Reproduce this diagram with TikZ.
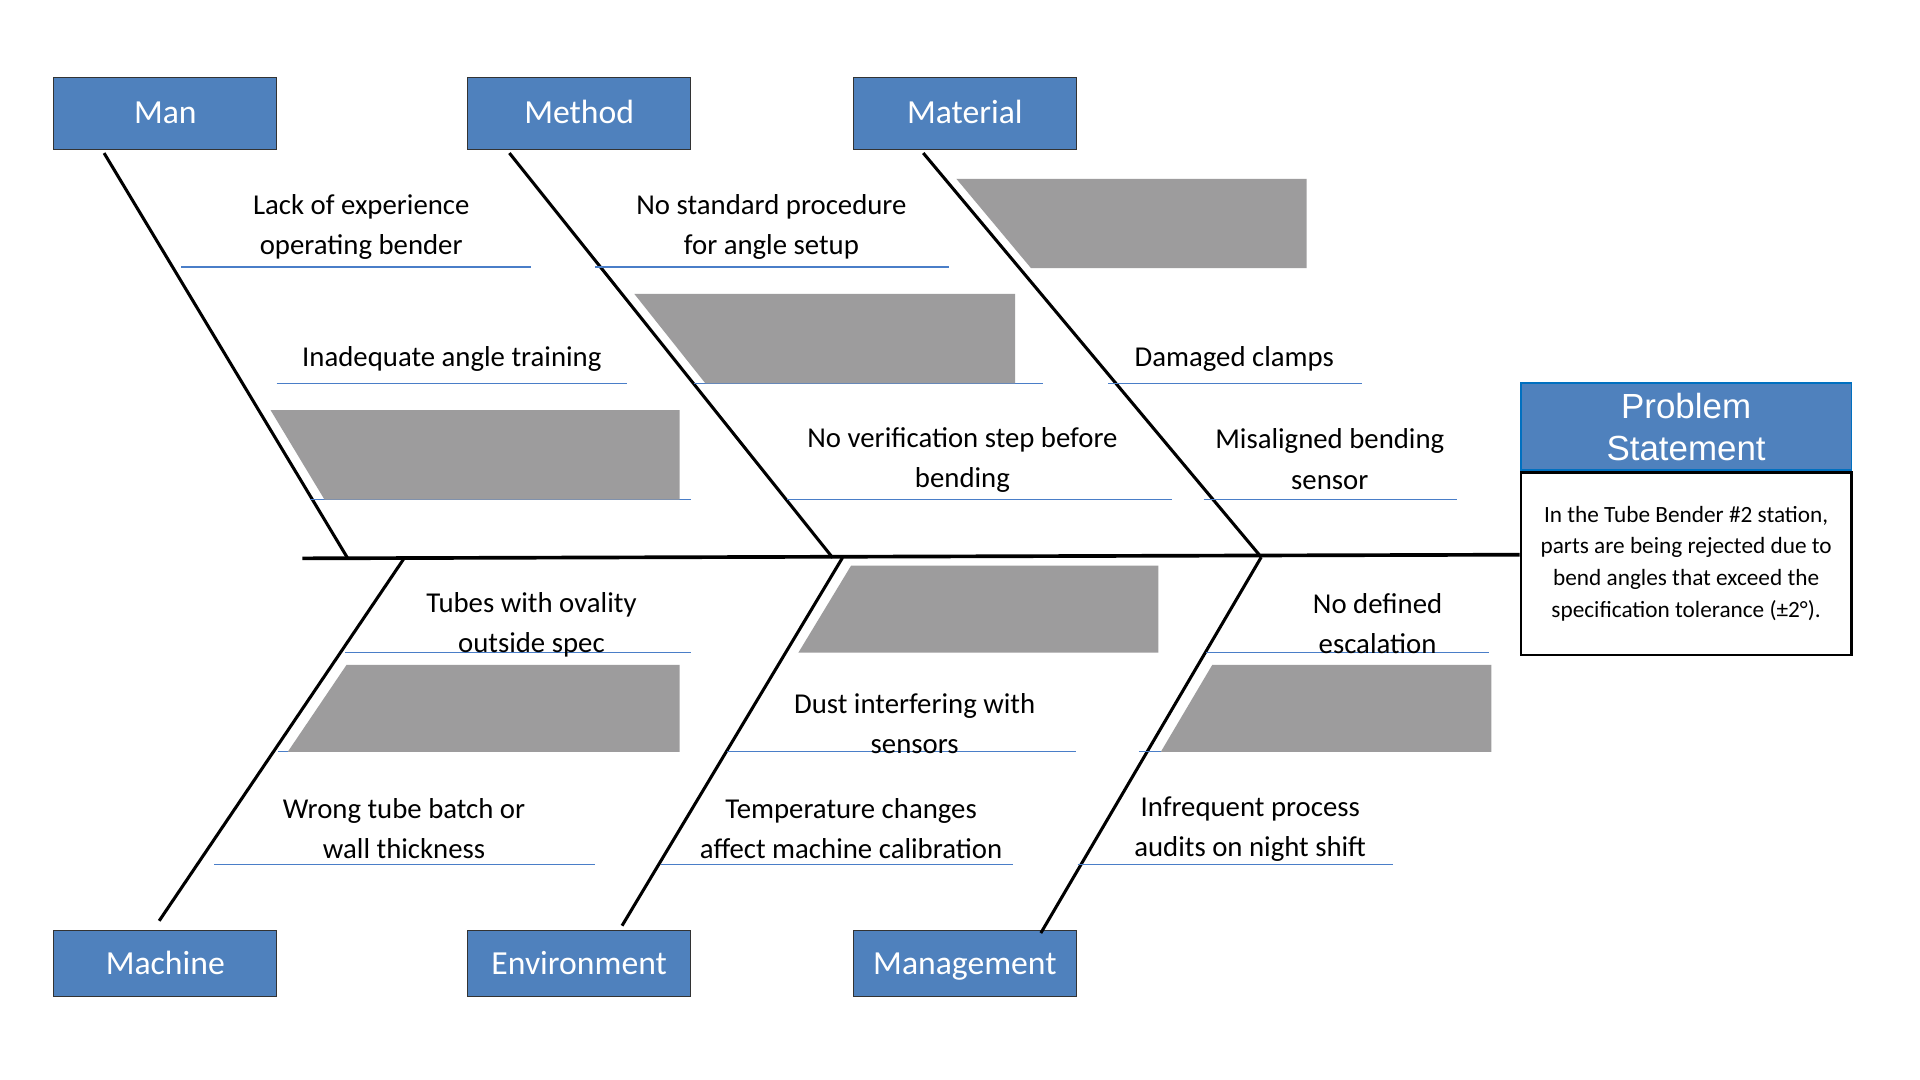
\documentclass[tikz,border=0pt]{standalone}
\usepackage{fontspec}
\setmainfont{Carlito}
\newfontfamily\headfont{Liberation Sans}
\usetikzlibrary{positioning}
\definecolor{catblue}{HTML}{4F81BD}
\definecolor{headblue}{HTML}{0070C0}
\definecolor{lineblue}{HTML}{4A7EC8}
\definecolor{hidegray}{HTML}{9D9C9D}

\begin{document}
\begin{tikzpicture}[
  x=1pt,y=-1pt,
  cat/.style={draw=black!80,line width=1pt,fill=catblue,minimum width=182pt,text=white,
              text height=17.5pt,text depth=0pt,
              font=\fontsize{27.5}{33}\selectfont},
  cause/.style={align=center,inner sep=0pt,font=\fontsize{23.5}{33}\selectfont},
  uline/.style={draw=lineblue,line width=1pt},
  hide/.style={fill=hidegray},
  bone/.style={line width=2.5pt},
  spine/.style={line width=3pt}
]
\useasboundingbox[fill=white] (0,0) rectangle (1568,882);

% category boxes
\node[cat,minimum height=59pt] (man)    at (135,92.5) {Man};
\node[cat,minimum height=59pt] (method) at (473,92.5) {Method};
\node[cat,minimum height=59pt] (mat)    at (788,92.5) {Material};
\node[cat,minimum height=54pt] (mach)   at (135,787)  {Machine};
\node[cat,minimum height=54pt] (env)    at (473,787)  {Environment};
\node[cat,minimum height=54pt] (mgmt)   at (788,787)  {Management};

% problem statement
\node[draw=headblue,line width=1.5pt,fill=catblue,minimum width=270pt,minimum height=71pt,
      align=center,text=white,font=\headfont\fontsize{28.5}{35}\selectfont] (head)
      at (1377,348.5) {Problem\\[-0.5pt]Statement};
\node[draw,line width=2pt,minimum width=270pt,minimum height=149pt,below=0pt of head,
      align=center,font=\fontsize{19}{26}\selectfont] (prob)
      {In the Tube Bender \#2 station,\\parts are being rejected due to\\bend angles that exceed the\\specification tolerance (±2°).};

% spine and bones
\coordinate (tail) at (247,456);
\coordinate (j1) at (284,456);
\coordinate (j2) at (680,455.5);
\coordinate (j3) at (1030,455);
\coordinate (k1) at (330,456);
\coordinate (k2) at (688,455.5);
\coordinate (head-in) at (prob.west |- 0,453);
\draw[spine] (tail) -- (head-in);
\coordinate (b-man)    at (85,125);
\coordinate (b-method) at (416,125);
\coordinate (b-mat)    at (754,125);
\coordinate (b-mach)   at (130,752);
\coordinate (b-env)    at (508,756);
\coordinate (b-mgmt)   at (850,762);
\draw[bone] (b-man) -- (j1);
\draw[bone] (b-method) -- (j2);
\draw[bone] (b-mat) -- (j3);
\draw[bone] (b-mach) -- (k1);
\draw[bone] (b-env) -- (k2);
\draw[bone] (b-mgmt) -- (j3);

% underlines
\draw[uline] (148,218) -- (434,218);
\draw[uline] (226,313) -- (512,313);
\draw[uline] (253,408) -- (564,408);
\draw[uline] (486,218) -- (775,218);
\draw[uline] (567,313) -- (852,313);
\draw[uline] (643,408) -- (957,408);
\draw[uline] (905,313) -- (1112,313);
\draw[uline] (983,408) -- (1190,408);
\draw[uline] (282,533) -- (564,533);
\draw[uline] (227,614) -- (512,614);
\draw[uline] (175,706) -- (486,706);
\draw[uline] (594,614) -- (879,614);
\draw[uline] (540,706) -- (827,706);
\draw[uline] (985,533) -- (1216,533);
\draw[uline] (930,614) -- (1165,614);
\draw[uline] (880,706) -- (1138,706);

% hidden causes
\fill[hide] (221,335) -- (555,335) -- (555,408) -- (265,408) -- cycle;
\fill[hide] (518,240) -- (829,240) -- (829,313) -- (576,313) -- cycle;
\fill[hide] (781,146) -- (1067,146) -- (1067,219) -- (842,219) -- cycle;
\fill[hide] (283,543) -- (555,543) -- (555,614) -- (235,614) -- cycle;
\fill[hide] (695,462) -- (946,462) -- (946,533) -- (652,533) -- cycle;
\fill[hide] (990,543) -- (1218,543) -- (1218,614) -- (948,614) -- cycle;

% causes
\node[cause] (c-exp)   at (295,185.5) {Lack of experience\\operating bender};
\node[cause] (c-train) at (369,293)   {Inadequate angle training};
\node[cause] (c-proc)  at (630,185.5) {No standard procedure\\for angle setup};
\node[cause] (c-verif) at (786,375.5) {No verification step before\\bending};
\node[cause] (c-clamp) at (1008,293)  {Damaged clamps};
\node[cause] (c-sens)  at (1086,375)  {Misaligned bending\\sensor};
\node[cause] (c-oval)  at (434,510.5) {Tubes with ovality\\outside spec};
\node[cause] (c-batch) at (330,676.5) {Wrong tube batch or\\wall thickness};
\node[cause] (c-dust)  at (747,591)   {Dust interfering with\\sensors};
\node[cause] (c-temp)  at (695,676.5) {Temperature changes\\affect machine calibration};
\node[cause] (c-esc)   at (1125,509.5){No defined\\escalation};
\node[cause] (c-audit) at (1021,677)  {Infrequent process\\audits on night shift};
\end{tikzpicture}
\end{document}
